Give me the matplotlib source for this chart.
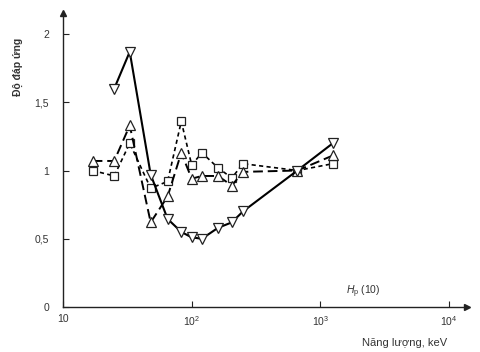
import numpy as np
import matplotlib
matplotlib.use('Agg')
import matplotlib.pyplot as plt

plt.rcParams['font.family'] = ['Liberation Sans', 'DejaVu Sans']
plt.rcParams['mathtext.fontset'] = 'custom'
plt.rcParams['mathtext.rm'] = 'Liberation Sans'
plt.rcParams['mathtext.it'] = 'Liberation Sans:italic'

# energies (keV) and relative responses
energy_down = [25, 33, 48, 65, 83, 100, 120, 160, 205, 250, 662, 1250]
resp_down = [1.60, 1.87, 0.97, 0.645, 0.55, 0.51, 0.50, 0.58, 0.62, 0.70, 1.00, 1.20]

energy_up = [17, 25, 33, 48, 65, 83, 100, 120, 160, 205, 250, 662, 1250]
resp_up = [1.07, 1.07, 1.33, 0.62, 0.81, 1.13, 0.94, 0.96, 0.96, 0.89, 0.99, 1.00, 1.11]

energy_sq = [17, 25, 33, 48, 65, 83, 100, 120, 160, 205, 250, 662, 1250]
resp_sq = [1.00, 0.96, 1.20, 0.87, 0.92, 1.36, 1.04, 1.13, 1.02, 0.945, 1.05, 1.00, 1.05]

yticks = [0, 0.5, 1, 1.5, 2]
ytick_labels = ['0', '0,5', '1', '1,5', '2']
xticks = [10, 100, 1000, 10000]
xtick_labels = ['10', r'$\mathregular{10^2}$', r'$\mathregular{10^3}$', r'$\mathregular{10^4}$']

fig = plt.figure(figsize=(4.81, 3.52), dpi=100)
ax = fig.add_axes([63/481, 45/352, 404/481, 294/352])

txt = '#333333'

ax.plot(energy_sq, resp_sq, color='black', lw=1.2, linestyle=(0, (2.5, 2)),
        marker='s', markersize=6, markerfacecolor='white', markeredgecolor='#222222',
        markeredgewidth=0.9)
ax.plot(energy_up, resp_up, color='black', lw=1.4, linestyle=(0, (5, 2.5)),
        marker='^', markersize=6.5, markerfacecolor='white', markeredgecolor='#222222',
        markeredgewidth=0.9)
ax.plot(energy_down, resp_down, color='black', lw=1.5, linestyle='-',
        marker='v', markersize=6.5, markerfacecolor='white', markeredgecolor='#222222',
        markeredgewidth=0.9)

ax.set_xscale('log')
ax.set_xlim(10, 10**4.139)
ax.set_ylim(0, 2.154)

ax.spines['top'].set_visible(False)
ax.spines['right'].set_visible(False)
for s in ['left', 'bottom']:
    ax.spines[s].set_linewidth(1.0)
    ax.spines[s].set_color('#222222')

# arrow heads at axis ends
ax.plot(1, 0, '>', color='#222222', markersize=4, transform=ax.transAxes, clip_on=False)
ax.plot(0, 1, '^', color='#222222', markersize=4, transform=ax.transAxes, clip_on=False)

ax.set_xticks(xticks)
ax.set_xticklabels(xtick_labels)
ax.set_yticks(yticks)
ax.set_yticklabels(ytick_labels)
ax.minorticks_off()
ax.tick_params(axis='both', direction='in', length=4, width=0.8, colors='#222222',
               labelcolor=txt, labelsize=7.5)
ax.tick_params(axis='x', pad=5)
ax.tick_params(axis='y', pad=10)

ax.text(0.70, 0.025, r'$H_\mathrm{p}$ (10)', transform=ax.transAxes,
        fontsize=7.5, color=txt, ha='left', va='bottom')

fig.text(447/481, 1 - 343/352, 'Năng lượng, keV', ha='right', va='center',
         fontsize=8, color=txt)
fig.text(18/481, 1 - 67/352, 'Độ đáp ứng', rotation=90, ha='center', va='center',
         fontsize=7.5, color=txt, fontweight='bold')

fig.savefig('out.png', dpi=100)
